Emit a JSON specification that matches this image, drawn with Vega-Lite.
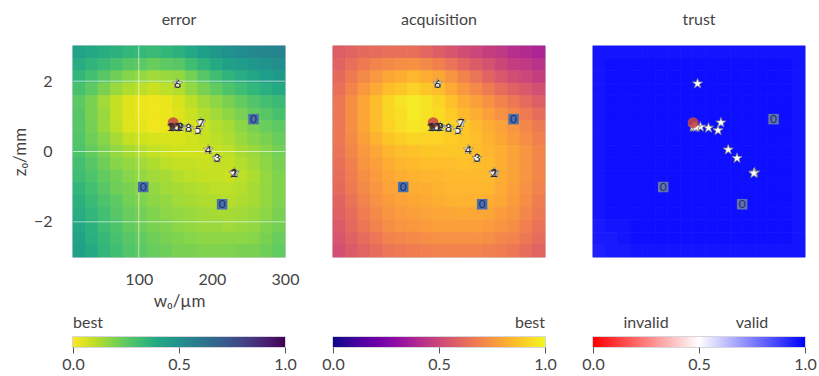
{
"$schema": "https://vega.github.io/schema/vega-lite/v6.json",
"background": "white",
"padding": {"left": 10, "top": 10, "right": 2, "bottom": 2},
"columns": 3,
"bounds": "flush",
"align": "each",
"spacing": {"row": 80, "column": 48},
"resolve": {"scale": {"x": "independent", "y": "independent", "color": "independent", "stroke": "independent"}},
"config": {
  "font": "Lato",
  "view": {"stroke": "#c8c8d0", "strokeWidth": 1.5},
  "axis": {"labelFont": "Lato", "titleFont": "Lato", "labelColor": "#444", "titleColor": "#444", "labelFontSize": 16, "titleFontSize": 17, "titleFontWeight": "normal"},
  "title": {"font": "Lato", "fontSize": 16, "fontWeight": "normal", "color": "#444", "offset": 18}
},
"datasets": {
"pts": [
 {"n":"1","x":231,"y":-0.6},{"n":"2","x":230,"y":-0.62},{"n":"3","x":207,"y":-0.19},{"n":"4","x":195,"y":0.05},
 {"n":"5","x":181,"y":0.6},{"n":"6","x":153,"y":1.93},{"n":"7","x":185,"y":0.82},{"n":"8","x":168,"y":0.67},
 {"n":"9","x":157,"y":0.7},{"n":"10","x":147,"y":0.7},{"n":"11","x":149,"y":0.7},{"n":"12","x":151,"y":0.69}
],
"init": [{"n":"0","x":257,"y":0.92},{"n":"0","x":106,"y":-1.01},{"n":"0","x":214,"y":-1.5}],
"best": [{"x":147,"y":0.82}],
"grid": [
{"i":0,"j":0,"e":0.42,"a":0.58,"t":0.96},{"i":1,"j":0,"e":0.40,"a":0.60,"t":0.96},{"i":2,"j":0,"e":0.38,"a":0.62,"t":0.96},{"i":3,"j":0,"e":0.36,"a":0.63,"t":0.96},{"i":4,"j":0,"e":0.34,"a":0.64,"t":0.96},{"i":5,"j":0,"e":0.33,"a":0.64,"t":0.96},{"i":6,"j":0,"e":0.32,"a":0.64,"t":0.96},{"i":7,"j":0,"e":0.34,"a":0.61,"t":0.96},{"i":8,"j":0,"e":0.36,"a":0.58,"t":0.96},{"i":9,"j":0,"e":0.40,"a":0.55,"t":0.96},{"i":10,"j":0,"e":0.44,"a":0.52,"t":0.96},{"i":11,"j":0,"e":0.47,"a":0.50,"t":0.96},{"i":12,"j":0,"e":0.50,"a":0.47,"t":0.96},{"i":13,"j":0,"e":0.52,"a":0.45,"t":0.96},{"i":14,"j":0,"e":0.53,"a":0.42,"t":0.96},{"i":15,"j":0,"e":0.54,"a":0.40,"t":0.96},{"i":16,"j":0,"e":0.55,"a":0.38,"t":0.96},
{"i":0,"j":1,"e":0.38,"a":0.60,"t":0.96},{"i":1,"j":1,"e":0.35,"a":0.64,"t":0.97},{"i":2,"j":1,"e":0.32,"a":0.67,"t":0.97},{"i":3,"j":1,"e":0.29,"a":0.70,"t":0.97},{"i":4,"j":1,"e":0.26,"a":0.72,"t":0.97},{"i":5,"j":1,"e":0.25,"a":0.73,"t":0.97},{"i":6,"j":1,"e":0.23,"a":0.74,"t":0.97},{"i":7,"j":1,"e":0.25,"a":0.72,"t":0.97},{"i":8,"j":1,"e":0.26,"a":0.69,"t":0.97},{"i":9,"j":1,"e":0.31,"a":0.65,"t":0.97},{"i":10,"j":1,"e":0.35,"a":0.61,"t":0.97},{"i":11,"j":1,"e":0.39,"a":0.57,"t":0.97},{"i":12,"j":1,"e":0.43,"a":0.54,"t":0.97},{"i":13,"j":1,"e":0.45,"a":0.50,"t":0.97},{"i":14,"j":1,"e":0.47,"a":0.47,"t":0.97},{"i":15,"j":1,"e":0.49,"a":0.45,"t":0.97},{"i":16,"j":1,"e":0.51,"a":0.43,"t":0.96},
{"i":0,"j":2,"e":0.34,"a":0.62,"t":0.96},{"i":1,"j":2,"e":0.30,"a":0.67,"t":0.97},{"i":2,"j":2,"e":0.26,"a":0.72,"t":0.97},{"i":3,"j":2,"e":0.22,"a":0.76,"t":0.97},{"i":4,"j":2,"e":0.18,"a":0.80,"t":0.97},{"i":5,"j":2,"e":0.16,"a":0.82,"t":0.97},{"i":6,"j":2,"e":0.14,"a":0.84,"t":0.97},{"i":7,"j":2,"e":0.15,"a":0.82,"t":0.97},{"i":8,"j":2,"e":0.16,"a":0.80,"t":0.97},{"i":9,"j":2,"e":0.21,"a":0.75,"t":0.97},{"i":10,"j":2,"e":0.26,"a":0.70,"t":0.97},{"i":11,"j":2,"e":0.31,"a":0.65,"t":0.97},{"i":12,"j":2,"e":0.35,"a":0.60,"t":0.97},{"i":13,"j":2,"e":0.38,"a":0.56,"t":0.97},{"i":14,"j":2,"e":0.41,"a":0.52,"t":0.97},{"i":15,"j":2,"e":0.44,"a":0.50,"t":0.97},{"i":16,"j":2,"e":0.46,"a":0.47,"t":0.96},
{"i":0,"j":3,"e":0.29,"a":0.64,"t":0.96},{"i":1,"j":3,"e":0.25,"a":0.70,"t":0.97},{"i":2,"j":3,"e":0.20,"a":0.76,"t":0.97},{"i":3,"j":3,"e":0.15,"a":0.81,"t":0.97},{"i":4,"j":3,"e":0.12,"a":0.86,"t":0.97},{"i":5,"j":3,"e":0.10,"a":0.88,"t":0.97},{"i":6,"j":3,"e":0.08,"a":0.91,"t":0.97},{"i":7,"j":3,"e":0.10,"a":0.88,"t":0.97},{"i":8,"j":3,"e":0.11,"a":0.86,"t":0.97},{"i":9,"j":3,"e":0.16,"a":0.81,"t":0.97},{"i":10,"j":3,"e":0.20,"a":0.76,"t":0.97},{"i":11,"j":3,"e":0.24,"a":0.72,"t":0.97},{"i":12,"j":3,"e":0.28,"a":0.67,"t":0.97},{"i":13,"j":3,"e":0.31,"a":0.63,"t":0.97},{"i":14,"j":3,"e":0.34,"a":0.59,"t":0.97},{"i":15,"j":3,"e":0.37,"a":0.56,"t":0.97},{"i":16,"j":3,"e":0.39,"a":0.53,"t":0.96},
{"i":0,"j":4,"e":0.25,"a":0.66,"t":0.96},{"i":1,"j":4,"e":0.20,"a":0.73,"t":0.97},{"i":2,"j":4,"e":0.14,"a":0.80,"t":0.97},{"i":3,"j":4,"e":0.09,"a":0.86,"t":0.97},{"i":4,"j":4,"e":0.05,"a":0.92,"t":0.97},{"i":5,"j":4,"e":0.03,"a":0.95,"t":0.97},{"i":6,"j":4,"e":0.02,"a":0.97,"t":0.97},{"i":7,"j":4,"e":0.03,"a":0.95,"t":0.97},{"i":8,"j":4,"e":0.06,"a":0.92,"t":0.97},{"i":9,"j":4,"e":0.10,"a":0.87,"t":0.97},{"i":10,"j":4,"e":0.14,"a":0.82,"t":0.97},{"i":11,"j":4,"e":0.17,"a":0.78,"t":0.97},{"i":12,"j":4,"e":0.20,"a":0.74,"t":0.97},{"i":13,"j":4,"e":0.24,"a":0.70,"t":0.97},{"i":14,"j":4,"e":0.27,"a":0.66,"t":0.97},{"i":15,"j":4,"e":0.30,"a":0.62,"t":0.97},{"i":16,"j":4,"e":0.32,"a":0.58,"t":0.96},
{"i":0,"j":5,"e":0.26,"a":0.66,"t":0.96},{"i":1,"j":5,"e":0.20,"a":0.73,"t":0.97},{"i":2,"j":5,"e":0.15,"a":0.80,"t":0.97},{"i":3,"j":5,"e":0.09,"a":0.86,"t":0.97},{"i":4,"j":5,"e":0.05,"a":0.92,"t":0.97},{"i":5,"j":5,"e":0.03,"a":0.94,"t":0.97},{"i":6,"j":5,"e":0.02,"a":0.97,"t":0.97},{"i":7,"j":5,"e":0.03,"a":0.95,"t":0.97},{"i":8,"j":5,"e":0.05,"a":0.93,"t":0.97},{"i":9,"j":5,"e":0.08,"a":0.89,"t":0.97},{"i":10,"j":5,"e":0.11,"a":0.85,"t":0.97},{"i":11,"j":5,"e":0.14,"a":0.82,"t":0.97},{"i":12,"j":5,"e":0.17,"a":0.78,"t":0.97},{"i":13,"j":5,"e":0.20,"a":0.74,"t":0.97},{"i":14,"j":5,"e":0.24,"a":0.71,"t":0.97},{"i":15,"j":5,"e":0.26,"a":0.67,"t":0.97},{"i":16,"j":5,"e":0.29,"a":0.63,"t":0.96},
{"i":0,"j":6,"e":0.26,"a":0.66,"t":0.96},{"i":1,"j":6,"e":0.21,"a":0.73,"t":0.97},{"i":2,"j":6,"e":0.15,"a":0.80,"t":0.97},{"i":3,"j":6,"e":0.10,"a":0.86,"t":0.97},{"i":4,"j":6,"e":0.05,"a":0.91,"t":0.97},{"i":5,"j":6,"e":0.04,"a":0.94,"t":0.97},{"i":6,"j":6,"e":0.02,"a":0.96,"t":0.97},{"i":7,"j":6,"e":0.03,"a":0.95,"t":0.97},{"i":8,"j":6,"e":0.04,"a":0.93,"t":0.97},{"i":9,"j":6,"e":0.06,"a":0.91,"t":0.97},{"i":10,"j":6,"e":0.08,"a":0.88,"t":0.97},{"i":11,"j":6,"e":0.11,"a":0.85,"t":0.97},{"i":12,"j":6,"e":0.13,"a":0.82,"t":0.97},{"i":13,"j":6,"e":0.17,"a":0.79,"t":0.97},{"i":14,"j":6,"e":0.20,"a":0.75,"t":0.97},{"i":15,"j":6,"e":0.23,"a":0.71,"t":0.97},{"i":16,"j":6,"e":0.25,"a":0.67,"t":0.96},
{"i":0,"j":7,"e":0.27,"a":0.66,"t":0.96},{"i":1,"j":7,"e":0.22,"a":0.72,"t":0.97},{"i":2,"j":7,"e":0.18,"a":0.78,"t":0.97},{"i":3,"j":7,"e":0.13,"a":0.83,"t":0.97},{"i":4,"j":7,"e":0.09,"a":0.88,"t":0.97},{"i":5,"j":7,"e":0.07,"a":0.90,"t":0.97},{"i":6,"j":7,"e":0.06,"a":0.92,"t":0.97},{"i":7,"j":7,"e":0.06,"a":0.91,"t":0.97},{"i":8,"j":7,"e":0.06,"a":0.91,"t":0.97},{"i":9,"j":7,"e":0.07,"a":0.89,"t":0.97},{"i":10,"j":7,"e":0.08,"a":0.88,"t":0.97},{"i":11,"j":7,"e":0.10,"a":0.86,"t":0.97},{"i":12,"j":7,"e":0.12,"a":0.83,"t":0.97},{"i":13,"j":7,"e":0.15,"a":0.80,"t":0.97},{"i":14,"j":7,"e":0.18,"a":0.77,"t":0.97},{"i":15,"j":7,"e":0.20,"a":0.73,"t":0.97},{"i":16,"j":7,"e":0.23,"a":0.69,"t":0.96},
{"i":0,"j":8,"e":0.28,"a":0.65,"t":0.96},{"i":1,"j":8,"e":0.24,"a":0.71,"t":0.97},{"i":2,"j":8,"e":0.20,"a":0.76,"t":0.97},{"i":3,"j":8,"e":0.16,"a":0.80,"t":0.97},{"i":4,"j":8,"e":0.13,"a":0.84,"t":0.97},{"i":5,"j":8,"e":0.11,"a":0.86,"t":0.97},{"i":6,"j":8,"e":0.09,"a":0.87,"t":0.97},{"i":7,"j":8,"e":0.08,"a":0.88,"t":0.97},{"i":8,"j":8,"e":0.07,"a":0.88,"t":0.97},{"i":9,"j":8,"e":0.07,"a":0.88,"t":0.97},{"i":10,"j":8,"e":0.07,"a":0.88,"t":0.97},{"i":11,"j":8,"e":0.09,"a":0.86,"t":0.97},{"i":12,"j":8,"e":0.10,"a":0.84,"t":0.97},{"i":13,"j":8,"e":0.13,"a":0.82,"t":0.97},{"i":14,"j":8,"e":0.15,"a":0.79,"t":0.97},{"i":15,"j":8,"e":0.18,"a":0.75,"t":0.97},{"i":16,"j":8,"e":0.21,"a":0.71,"t":0.96},
{"i":0,"j":9,"e":0.30,"a":0.64,"t":0.96},{"i":1,"j":9,"e":0.26,"a":0.69,"t":0.97},{"i":2,"j":9,"e":0.22,"a":0.75,"t":0.97},{"i":3,"j":9,"e":0.18,"a":0.78,"t":0.97},{"i":4,"j":9,"e":0.16,"a":0.82,"t":0.97},{"i":5,"j":9,"e":0.14,"a":0.84,"t":0.97},{"i":6,"j":9,"e":0.12,"a":0.85,"t":0.97},{"i":7,"j":9,"e":0.10,"a":0.86,"t":0.97},{"i":8,"j":9,"e":0.09,"a":0.86,"t":0.97},{"i":9,"j":9,"e":0.09,"a":0.86,"t":0.97},{"i":10,"j":9,"e":0.08,"a":0.87,"t":0.97},{"i":11,"j":9,"e":0.09,"a":0.86,"t":0.97},{"i":12,"j":9,"e":0.09,"a":0.85,"t":0.97},{"i":13,"j":9,"e":0.11,"a":0.82,"t":0.97},{"i":14,"j":9,"e":0.14,"a":0.79,"t":0.97},{"i":15,"j":9,"e":0.17,"a":0.75,"t":0.97},{"i":16,"j":9,"e":0.20,"a":0.71,"t":0.96},
{"i":0,"j":10,"e":0.31,"a":0.63,"t":0.96},{"i":1,"j":10,"e":0.28,"a":0.68,"t":0.97},{"i":2,"j":10,"e":0.24,"a":0.73,"t":0.97},{"i":3,"j":10,"e":0.21,"a":0.77,"t":0.97},{"i":4,"j":10,"e":0.18,"a":0.80,"t":0.97},{"i":5,"j":10,"e":0.16,"a":0.82,"t":0.97},{"i":6,"j":10,"e":0.14,"a":0.83,"t":0.97},{"i":7,"j":10,"e":0.13,"a":0.84,"t":0.97},{"i":8,"j":10,"e":0.11,"a":0.84,"t":0.97},{"i":9,"j":10,"e":0.10,"a":0.85,"t":0.97},{"i":10,"j":10,"e":0.09,"a":0.85,"t":0.97},{"i":11,"j":10,"e":0.09,"a":0.85,"t":0.97},{"i":12,"j":10,"e":0.08,"a":0.85,"t":0.97},{"i":13,"j":10,"e":0.10,"a":0.82,"t":0.97},{"i":14,"j":10,"e":0.12,"a":0.79,"t":0.97},{"i":15,"j":10,"e":0.16,"a":0.75,"t":0.97},{"i":16,"j":10,"e":0.19,"a":0.71,"t":0.96},
{"i":0,"j":11,"e":0.34,"a":0.62,"t":0.96},{"i":1,"j":11,"e":0.30,"a":0.67,"t":0.97},{"i":2,"j":11,"e":0.26,"a":0.72,"t":0.97},{"i":3,"j":11,"e":0.22,"a":0.75,"t":0.97},{"i":4,"j":11,"e":0.20,"a":0.79,"t":0.97},{"i":5,"j":11,"e":0.18,"a":0.80,"t":0.97},{"i":6,"j":11,"e":0.16,"a":0.82,"t":0.97},{"i":7,"j":11,"e":0.14,"a":0.82,"t":0.97},{"i":8,"j":11,"e":0.13,"a":0.83,"t":0.97},{"i":9,"j":11,"e":0.12,"a":0.84,"t":0.97},{"i":10,"j":11,"e":0.11,"a":0.84,"t":0.97},{"i":11,"j":11,"e":0.10,"a":0.84,"t":0.97},{"i":12,"j":11,"e":0.10,"a":0.84,"t":0.97},{"i":13,"j":11,"e":0.11,"a":0.81,"t":0.97},{"i":14,"j":11,"e":0.13,"a":0.78,"t":0.97},{"i":15,"j":11,"e":0.16,"a":0.74,"t":0.97},{"i":16,"j":11,"e":0.19,"a":0.70,"t":0.96},
{"i":0,"j":12,"e":0.36,"a":0.60,"t":0.96},{"i":1,"j":12,"e":0.32,"a":0.65,"t":0.97},{"i":2,"j":12,"e":0.28,"a":0.70,"t":0.97},{"i":3,"j":12,"e":0.25,"a":0.74,"t":0.97},{"i":4,"j":12,"e":0.21,"a":0.77,"t":0.97},{"i":5,"j":12,"e":0.19,"a":0.79,"t":0.97},{"i":6,"j":12,"e":0.17,"a":0.80,"t":0.97},{"i":7,"j":12,"e":0.16,"a":0.81,"t":0.97},{"i":8,"j":12,"e":0.14,"a":0.82,"t":0.97},{"i":9,"j":12,"e":0.13,"a":0.83,"t":0.97},{"i":10,"j":12,"e":0.12,"a":0.83,"t":0.97},{"i":11,"j":12,"e":0.12,"a":0.83,"t":0.97},{"i":12,"j":12,"e":0.11,"a":0.82,"t":0.97},{"i":13,"j":12,"e":0.12,"a":0.80,"t":0.97},{"i":14,"j":12,"e":0.13,"a":0.77,"t":0.97},{"i":15,"j":12,"e":0.16,"a":0.73,"t":0.97},{"i":16,"j":12,"e":0.19,"a":0.68,"t":0.96},
{"i":0,"j":13,"e":0.38,"a":0.59,"t":0.96},{"i":1,"j":13,"e":0.34,"a":0.63,"t":0.97},{"i":2,"j":13,"e":0.30,"a":0.68,"t":0.97},{"i":3,"j":13,"e":0.26,"a":0.72,"t":0.97},{"i":4,"j":13,"e":0.23,"a":0.75,"t":0.97},{"i":5,"j":13,"e":0.21,"a":0.77,"t":0.97},{"i":6,"j":13,"e":0.19,"a":0.78,"t":0.97},{"i":7,"j":13,"e":0.17,"a":0.79,"t":0.97},{"i":8,"j":13,"e":0.16,"a":0.80,"t":0.97},{"i":9,"j":13,"e":0.15,"a":0.80,"t":0.97},{"i":10,"j":13,"e":0.14,"a":0.81,"t":0.97},{"i":11,"j":13,"e":0.13,"a":0.80,"t":0.97},{"i":12,"j":13,"e":0.13,"a":0.80,"t":0.97},{"i":13,"j":13,"e":0.14,"a":0.77,"t":0.97},{"i":14,"j":13,"e":0.15,"a":0.75,"t":0.97},{"i":15,"j":13,"e":0.17,"a":0.71,"t":0.97},{"i":16,"j":13,"e":0.20,"a":0.67,"t":0.96},
{"i":0,"j":14,"e":0.40,"a":0.57,"t":0.95},{"i":1,"j":14,"e":0.36,"a":0.62,"t":0.96},{"i":2,"j":14,"e":0.31,"a":0.66,"t":0.96},{"i":3,"j":14,"e":0.28,"a":0.70,"t":0.97},{"i":4,"j":14,"e":0.24,"a":0.73,"t":0.97},{"i":5,"j":14,"e":0.22,"a":0.75,"t":0.97},{"i":6,"j":14,"e":0.20,"a":0.76,"t":0.97},{"i":7,"j":14,"e":0.19,"a":0.77,"t":0.97},{"i":8,"j":14,"e":0.17,"a":0.78,"t":0.97},{"i":9,"j":14,"e":0.16,"a":0.78,"t":0.97},{"i":10,"j":14,"e":0.15,"a":0.78,"t":0.97},{"i":11,"j":14,"e":0.15,"a":0.78,"t":0.97},{"i":12,"j":14,"e":0.14,"a":0.77,"t":0.97},{"i":13,"j":14,"e":0.15,"a":0.75,"t":0.97},{"i":14,"j":14,"e":0.16,"a":0.73,"t":0.97},{"i":15,"j":14,"e":0.19,"a":0.69,"t":0.97},{"i":16,"j":14,"e":0.21,"a":0.65,"t":0.96},
{"i":0,"j":15,"e":0.42,"a":0.55,"t":0.95},{"i":1,"j":15,"e":0.37,"a":0.59,"t":0.95},{"i":2,"j":15,"e":0.33,"a":0.63,"t":0.96},{"i":3,"j":15,"e":0.29,"a":0.66,"t":0.97},{"i":4,"j":15,"e":0.26,"a":0.70,"t":0.97},{"i":5,"j":15,"e":0.24,"a":0.71,"t":0.97},{"i":6,"j":15,"e":0.22,"a":0.72,"t":0.97},{"i":7,"j":15,"e":0.20,"a":0.73,"t":0.97},{"i":8,"j":15,"e":0.19,"a":0.74,"t":0.97},{"i":9,"j":15,"e":0.18,"a":0.74,"t":0.97},{"i":10,"j":15,"e":0.17,"a":0.74,"t":0.97},{"i":11,"j":15,"e":0.17,"a":0.74,"t":0.97},{"i":12,"j":15,"e":0.17,"a":0.73,"t":0.97},{"i":13,"j":15,"e":0.17,"a":0.71,"t":0.97},{"i":14,"j":15,"e":0.18,"a":0.70,"t":0.97},{"i":15,"j":15,"e":0.20,"a":0.66,"t":0.97},{"i":16,"j":15,"e":0.23,"a":0.63,"t":0.96},
{"i":0,"j":16,"e":0.43,"a":0.53,"t":0.94},{"i":1,"j":16,"e":0.39,"a":0.57,"t":0.95},{"i":2,"j":16,"e":0.34,"a":0.60,"t":0.95},{"i":3,"j":16,"e":0.31,"a":0.63,"t":0.96},{"i":4,"j":16,"e":0.27,"a":0.66,"t":0.96},{"i":5,"j":16,"e":0.25,"a":0.67,"t":0.96},{"i":6,"j":16,"e":0.23,"a":0.68,"t":0.96},{"i":7,"j":16,"e":0.22,"a":0.69,"t":0.96},{"i":8,"j":16,"e":0.20,"a":0.70,"t":0.96},{"i":9,"j":16,"e":0.20,"a":0.70,"t":0.96},{"i":10,"j":16,"e":0.19,"a":0.70,"t":0.96},{"i":11,"j":16,"e":0.19,"a":0.70,"t":0.96},{"i":12,"j":16,"e":0.19,"a":0.69,"t":0.96},{"i":13,"j":16,"e":0.20,"a":0.68,"t":0.96},{"i":14,"j":16,"e":0.20,"a":0.66,"t":0.96},{"i":15,"j":16,"e":0.22,"a":0.63,"t":0.96},{"i":16,"j":16,"e":0.24,"a":0.60,"t":0.96}
]
},
"concat": [
   {
    "width": 212, "height": 211,
    "title": {"text": "error"},
    "resolve": {"scale": {"x": "independent", "y": "independent"}},
    "layer": [
     {"data": {"name": "grid"}, "mark": {"type": "rect", "strokeWidth": 0.8},
      "encoding": {
       "x": {"field": "i", "type": "ordinal", "axis": null, "scale": {"paddingInner": 0, "paddingOuter": 0}},
       "y": {"field": "j", "type": "ordinal", "axis": null, "scale": {"paddingInner": 0, "paddingOuter": 0}},
       "color": {"field": "e", "type": "quantitative", "legend": null, "scale": {"scheme": "viridis", "reverse": true, "domain": [0, 1]}},
       "stroke": {"field": "e", "type": "quantitative", "legend": null, "scale": {"scheme": "viridis", "reverse": true, "domain": [0, 1]}}
      }},
     {
      "encoding": {
       "x": {"field": "x", "type": "quantitative", "title": "w₀/µm", "scale": {"domain": [10, 300], "nice": false, "zero": false},
             "axis": {"values": [100, 200, 300], "grid": false, "ticks": false, "domain": false, "labelPadding": 14, "labelFlush": false, "titlePadding": 6}},
       "y": {"field": "y", "type": "quantitative", "title": "z₀/mm", "scale": {"domain": [-3, 3], "nice": false, "zero": false},
             "axis": {"values": [-2, 0, 2], "grid": false, "ticks": false, "domain": false, "labelPadding": 21, "titlePadding": 4}}
      },
      "layer": [
       {"data": {"values": [{"x": 100, "x2": 100, "y": -3, "y2": 3}, {"x": 10, "x2": 300, "y": -2, "y2": -2}, {"x": 10, "x2": 300, "y": 0, "y2": 0}, {"x": 10, "x2": 300, "y": 2, "y2": 2}]},
        "mark": {"type": "rule", "color": "#ffffff", "opacity": 0.6, "strokeWidth": 1},
        "encoding": {"x2": {"field": "x2"}, "y2": {"field": "y2"}}},
       {"data": {"name": "init"}, "mark": {"type": "square", "filled": true, "color": "#4a6fb0", "opacity": 1, "size": 110}},
       {"data": {"name": "init"}, "mark": {"type": "text", "fontSize": 12, "color": "#1f2f66"}, "encoding": {"text": {"field": "n"}}},
       {"data": {"name": "pts"}, "mark": {"type": "point", "shape": "M0,-1L0.235,-0.324L0.951,-0.309L0.38,0.124L0.588,0.809L0,0.4L-0.588,0.809L-0.38,0.124L-0.951,-0.309L-0.235,-0.324Z", "filled": true, "fill": "#ffffff", "stroke": "#888888", "strokeWidth": 0.8, "size": 110, "opacity": 1}},
       {"data": {"name": "best"}, "mark": {"type": "circle", "color": "#c84646", "size": 120, "opacity": 0.85}},
       {"data": {"name": "pts"}, "mark": {"type": "text", "fontSize": 12, "color": "#2a2a2a"}, "encoding": {"text": {"field": "n"}}}
      ]
     }
    ]
   },
   {
    "width": 212, "height": 211,
    "title": {"text": "acquisition"},
    "resolve": {"scale": {"x": "independent", "y": "independent"}},
    "layer": [
     {"data": {"name": "grid"}, "mark": {"type": "rect", "strokeWidth": 0.8},
      "encoding": {
       "x": {"field": "i", "type": "ordinal", "axis": null, "scale": {"paddingInner": 0, "paddingOuter": 0}},
       "y": {"field": "j", "type": "ordinal", "axis": null, "scale": {"paddingInner": 0, "paddingOuter": 0}},
       "color": {"field": "a", "type": "quantitative", "legend": null, "scale": {"scheme": "plasma", "domain": [0, 1]}},
       "stroke": {"field": "a", "type": "quantitative", "legend": null, "scale": {"scheme": "plasma", "domain": [0, 1]}}
      }},
     {
      "encoding": {
       "x": {"field": "x", "type": "quantitative", "scale": {"domain": [10, 300], "nice": false, "zero": false}, "axis": null},
       "y": {"field": "y", "type": "quantitative", "scale": {"domain": [-3, 3], "nice": false, "zero": false}, "axis": null}
      },
      "layer": [
       {"data": {"name": "init"}, "mark": {"type": "square", "filled": true, "color": "#4a6fb0", "opacity": 1, "size": 110}},
       {"data": {"name": "init"}, "mark": {"type": "text", "fontSize": 12, "color": "#1f2f66"}, "encoding": {"text": {"field": "n"}}},
       {"data": {"name": "pts"}, "mark": {"type": "point", "shape": "M0,-1L0.235,-0.324L0.951,-0.309L0.38,0.124L0.588,0.809L0,0.4L-0.588,0.809L-0.38,0.124L-0.951,-0.309L-0.235,-0.324Z", "filled": true, "fill": "#ffffff", "stroke": "#888888", "strokeWidth": 0.8, "size": 110, "opacity": 1}},
       {"data": {"name": "best"}, "mark": {"type": "circle", "color": "#c84646", "size": 120, "opacity": 0.85}},
       {"data": {"name": "pts"}, "mark": {"type": "text", "fontSize": 12, "color": "#2a2a2a"}, "encoding": {"text": {"field": "n"}}}
      ]
     }
    ]
   },
   {
    "width": 212, "height": 211,
    "title": {"text": "trust"},
    "resolve": {"scale": {"x": "independent", "y": "independent"}},
    "layer": [
     {"data": {"name": "grid"}, "mark": {"type": "rect", "strokeWidth": 0.8},
      "encoding": {
       "x": {"field": "i", "type": "ordinal", "axis": null, "scale": {"paddingInner": 0, "paddingOuter": 0}},
       "y": {"field": "j", "type": "ordinal", "axis": null, "scale": {"paddingInner": 0, "paddingOuter": 0}},
       "color": {"field": "t", "type": "quantitative", "legend": null, "scale": {"domain": [0, 0.5, 1], "range": ["#ff0000", "#ffffff", "#0000ff"], "interpolate": "rgb"}},
       "stroke": {"field": "t", "type": "quantitative", "legend": null, "scale": {"domain": [0, 0.5, 1], "range": ["#ff0000", "#ffffff", "#0000ff"], "interpolate": "rgb"}}
      }},
     {
      "encoding": {
       "x": {"field": "x", "type": "quantitative", "scale": {"domain": [10, 300], "nice": false, "zero": false}, "axis": null},
       "y": {"field": "y", "type": "quantitative", "scale": {"domain": [-3, 3], "nice": false, "zero": false}, "axis": null}
      },
      "layer": [
       {"data": {"name": "init"}, "mark": {"type": "square", "filled": true, "color": "#6272b0", "opacity": 1, "size": 110}},
       {"data": {"name": "init"}, "mark": {"type": "text", "fontSize": 12, "color": "#1f2f66"}, "encoding": {"text": {"field": "n"}}},
       {"data": {"name": "pts"}, "mark": {"type": "point", "shape": "M0,-1L0.235,-0.324L0.951,-0.309L0.38,0.124L0.588,0.809L0,0.4L-0.588,0.809L-0.38,0.124L-0.951,-0.309L-0.235,-0.324Z", "filled": true, "fill": "#ffffff", "stroke": "#888888", "strokeWidth": 0.8, "size": 110, "opacity": 1}},
       {"data": {"name": "best"}, "mark": {"type": "circle", "color": "#c84646", "size": 120, "opacity": 0.85}}
      ]
     }
    ]
   },
   {
    "width": 212, "height": 10,
    "layer": [
     {"data": {"values": [{"v0": 0, "v1": 1, "b0": 0, "b1": 1}]},
      "mark": {"type": "rect", "fill": {"gradient": "linear", "x1": 0, "y1": 0, "x2": 1, "y2": 0, "stops": [
        {"offset": 0, "color": "#fde725"}, {"offset": 0.1, "color": "#bddf26"}, {"offset": 0.2, "color": "#7ad151"}, {"offset": 0.3, "color": "#44bf70"}, {"offset": 0.4, "color": "#22a884"}, {"offset": 0.5, "color": "#21918c"}, {"offset": 0.6, "color": "#2a788e"}, {"offset": 0.7, "color": "#355f8d"}, {"offset": 0.8, "color": "#414487"}, {"offset": 0.9, "color": "#482475"}, {"offset": 1, "color": "#440154"}]}},
      "encoding": {
       "x": {"field": "v0", "type": "quantitative", "scale": {"domain": [0, 1], "nice": false}, "axis": {"values": [0, 0.5, 1], "format": ".1f", "title": null, "grid": false, "domain": false, "tickSize": 6, "tickColor": "#555", "labelPadding": 3, "labelFlush": false}},
       "x2": {"field": "v1"},
       "y": {"field": "b0", "type": "quantitative", "scale": {"domain": [0, 1], "nice": false}, "axis": null},
       "y2": {"field": "b1"}
      }},
     {"data": {"values": [{"v0": 0, "b0": 1, "lab": "best"}]},
      "mark": {"type": "text", "align": "left", "baseline": "alphabetic", "dy": -9, "fontSize": 16, "color": "#444"},
      "encoding": {"x": {"field": "v0", "type": "quantitative"}, "y": {"field": "b0", "type": "quantitative"}, "text": {"field": "lab"}}}
    ]
   },
   {
    "width": 212, "height": 10,
    "layer": [
     {"data": {"values": [{"v0": 0, "v1": 1, "b0": 0, "b1": 1}]},
      "mark": {"type": "rect", "fill": {"gradient": "linear", "x1": 0, "y1": 0, "x2": 1, "y2": 0, "stops": [
        {"offset": 0, "color": "#0d0887"}, {"offset": 0.1, "color": "#41049d"}, {"offset": 0.2, "color": "#6a00a8"}, {"offset": 0.3, "color": "#8f0da4"}, {"offset": 0.4, "color": "#b12a90"}, {"offset": 0.5, "color": "#cc4778"}, {"offset": 0.6, "color": "#e16462"}, {"offset": 0.7, "color": "#f2844b"}, {"offset": 0.8, "color": "#fca636"}, {"offset": 0.9, "color": "#fcce25"}, {"offset": 1, "color": "#f0f921"}]}},
      "encoding": {
       "x": {"field": "v0", "type": "quantitative", "scale": {"domain": [0, 1], "nice": false}, "axis": {"values": [0, 0.5, 1], "format": ".1f", "title": null, "grid": false, "domain": false, "tickSize": 6, "tickColor": "#555", "labelPadding": 3, "labelFlush": false}},
       "x2": {"field": "v1"},
       "y": {"field": "b0", "type": "quantitative", "scale": {"domain": [0, 1], "nice": false}, "axis": null},
       "y2": {"field": "b1"}
      }},
     {"data": {"values": [{"v0": 1, "b0": 1, "lab": "best"}]},
      "mark": {"type": "text", "align": "right", "baseline": "alphabetic", "dy": -9, "fontSize": 16, "color": "#444"},
      "encoding": {"x": {"field": "v0", "type": "quantitative"}, "y": {"field": "b0", "type": "quantitative"}, "text": {"field": "lab"}}}
    ]
   },
   {
    "width": 212, "height": 10,
    "layer": [
     {"data": {"values": [{"v0": 0, "v1": 1, "b0": 0, "b1": 1}]},
      "mark": {"type": "rect", "fill": {"gradient": "linear", "x1": 0, "y1": 0, "x2": 1, "y2": 0, "stops": [
        {"offset": 0, "color": "#ff0000"}, {"offset": 0.5, "color": "#ffffff"}, {"offset": 1, "color": "#0000ff"}]}},
      "encoding": {
       "x": {"field": "v0", "type": "quantitative", "scale": {"domain": [0, 1], "nice": false}, "axis": {"values": [0, 0.5, 1], "format": ".1f", "title": null, "grid": false, "domain": false, "tickSize": 6, "tickColor": "#555", "labelPadding": 3, "labelFlush": false}},
       "x2": {"field": "v1"},
       "y": {"field": "b0", "type": "quantitative", "scale": {"domain": [0, 1], "nice": false}, "axis": null},
       "y2": {"field": "b1"}
      }},
     {"data": {"values": [{"v0": 0.25, "b0": 1, "lab": "invalid"}, {"v0": 0.75, "b0": 1, "lab": "valid"}]},
      "mark": {"type": "text", "align": "center", "baseline": "alphabetic", "dy": -9, "fontSize": 16, "color": "#444"},
      "encoding": {"x": {"field": "v0", "type": "quantitative"}, "y": {"field": "b0", "type": "quantitative"}, "text": {"field": "lab"}}}
    ]
   }
]
}
